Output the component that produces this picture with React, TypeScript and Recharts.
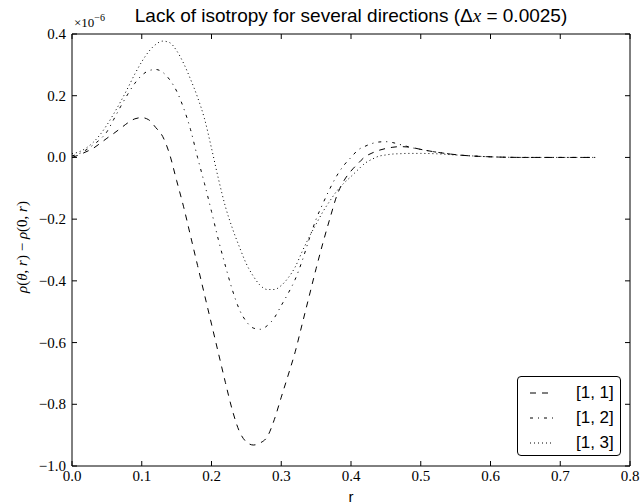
import React from 'react';
import { LineChart, Line, XAxis, YAxis, Legend, ReferenceArea } from 'recharts';

const rValues = [
  0, 0.01, 0.02, 0.03, 0.04, 0.05, 0.06, 0.07, 0.08, 0.09,
  0.1, 0.11, 0.12, 0.13, 0.14, 0.15, 0.16, 0.17, 0.18, 0.19,
  0.2, 0.21, 0.22, 0.23, 0.24, 0.25, 0.26, 0.27, 0.28, 0.29,
  0.3, 0.31, 0.32, 0.33, 0.34, 0.35, 0.36, 0.37, 0.38, 0.39,
  0.4, 0.41, 0.42, 0.43, 0.44, 0.45, 0.46, 0.47, 0.48, 0.49,
  0.5, 0.52, 0.55, 0.6, 0.65, 0.7, 0.75,
];

// values in units of 1e-6
const dir11 = [
  0, 0.008, 0.018, 0.029, 0.045, 0.062, 0.078, 0.095, 0.112, 0.125,
  0.129, 0.122, 0.097, 0.068, 0.01, -0.075, -0.16, -0.255, -0.35, -0.445,
  -0.54, -0.635, -0.73, -0.82, -0.888, -0.922, -0.932, -0.925, -0.905, -0.85,
  -0.777, -0.705, -0.63, -0.54, -0.45, -0.36, -0.275, -0.196, -0.122, -0.075,
  -0.044, -0.02, 0.002, 0.014, 0.023, 0.029, 0.033, 0.035, 0.034, 0.031,
  0.026, 0.018, 0.009, 0.002, 0, 0, 0,
];

const dir12 = [
  0.005, 0.012, 0.024, 0.04, 0.058, 0.083, 0.124, 0.166, 0.205, 0.24,
  0.266, 0.281, 0.285, 0.276, 0.252, 0.215, 0.16, 0.09, 0.0, -0.085,
  -0.175, -0.268, -0.352, -0.43, -0.493, -0.532, -0.553, -0.557, -0.545, -0.52,
  -0.48, -0.44, -0.395, -0.335, -0.265, -0.2, -0.148, -0.1, -0.058, -0.025,
  0.0, 0.024, 0.036, 0.045, 0.05, 0.051, 0.048, 0.042, 0.036, 0.03,
  0.026, 0.018, 0.009, 0.002, 0, 0, 0,
];

const dir13 = [
  0.012, 0.018, 0.03, 0.048, 0.073, 0.105, 0.142, 0.182, 0.225, 0.27,
  0.31, 0.343, 0.366, 0.377, 0.372, 0.346, 0.305, 0.253, 0.195, 0.125,
  0.03, -0.07, -0.16, -0.23, -0.29, -0.345, -0.385, -0.415, -0.428, -0.428,
  -0.415, -0.39, -0.355, -0.305, -0.258, -0.216, -0.175, -0.14, -0.108, -0.083,
  -0.062, -0.04, -0.019, -0.006, 0.004, 0.008, 0.011, 0.012, 0.013, 0.013,
  0.013, 0.012, 0.008, 0.002, 0, 0, 0,
];

const seriesNames = ['[1, 1]', '[1, 2]', '[1, 3]'];
const seriesDash = ['6 6', '3 5 1 5', '1 3'];
const xTicks = [0, 0.1, 0.2, 0.3, 0.4, 0.5, 0.6, 0.7, 0.8];
const yTicks = [-1.0, -0.8, -0.6, -0.4, -0.2, 0.0, 0.2, 0.4];
const xDomain = [0, 0.8];
const yDomain = [-1.0, 0.4];

const data = rValues.map((r, i) => ({ r, s11: dir11[i], s12: dir12[i], s13: dir13[i] }));
const seriesKeys = ['s11', 's12', 's13'];

const W = 642;
const H = 504;
const PLOT_LEFT = 72;
const PLOT_RIGHT = 630;
const PLOT_TOP = 34;
const PLOT_BOTTOM = 466;
const TICK = 5;
const SERIF = '"Liberation Serif", "DejaVu Serif", serif';
const SANS = '"Liberation Sans", Arial, sans-serif';

const fmt = (v: number) => {
  const s = Math.abs(v).toFixed(1);
  return v < -1e-9 ? '\u2212' + s : s;
};

const XTick = (props: any) => {
  const { x, y, payload } = props;
  return (
    <g>
      <line x1={x} y1={y} x2={x} y2={y - TICK} stroke="#000" strokeWidth={1} />
      <line x1={x} y1={PLOT_TOP} x2={x} y2={PLOT_TOP + TICK} stroke="#000" strokeWidth={1} />
      <text x={x} y={y + 10} textAnchor="middle" dominantBaseline="central" fontFamily={SERIF} fontSize={15} fill="#000">
        {fmt(payload.value)}
      </text>
    </g>
  );
};

const YTick = (props: any) => {
  const { x, y, payload } = props;
  return (
    <g>
      <line x1={x} y1={y} x2={x + TICK} y2={y} stroke="#000" strokeWidth={1} />
      <line x1={PLOT_RIGHT} y1={y} x2={PLOT_RIGHT - TICK} y2={y} stroke="#000" strokeWidth={1} />
      <text x={x - 6} y={y} textAnchor="end" dominantBaseline="central" fontFamily={SERIF} fontSize={15} fill="#000">
        {fmt(payload.value)}
      </text>
    </g>
  );
};

const YLabel = () => {
  const cx = 22;
  const cy = (PLOT_TOP + PLOT_BOTTOM) / 2 - 3;
  return (
    <text x={cx} y={cy} transform={`rotate(-90, ${cx}, ${cy})`} textAnchor="middle" dominantBaseline="central" fontFamily={SERIF} fontSize={15} fill="#000">
      <tspan fontStyle="italic">ρ</tspan>
      <tspan>(</tspan>
      <tspan fontStyle="italic">θ</tspan>
      <tspan>, </tspan>
      <tspan fontStyle="italic">r</tspan>
      <tspan>) − </tspan>
      <tspan fontStyle="italic">ρ</tspan>
      <tspan>(0, </tspan>
      <tspan fontStyle="italic">r</tspan>
      <tspan>)</tspan>
    </text>
  );
};

const XLabel = () => (
  <text x={(PLOT_LEFT + PLOT_RIGHT) / 2} y={496} textAnchor="middle" dominantBaseline="central" fontFamily={SANS} fontSize={15} fill="#000">
    r
  </text>
);

const LegendBox = (props: any) => {
  const payload = props.payload || [];
  return (
    <div
      style={{
        border: '1px solid #000',
        borderRadius: 4,
        background: '#fff',
        width: 104,
        height: 80,
        boxSizing: 'border-box',
        paddingTop: 3,
      }}
    >
      {payload.map((p: any, i: number) => (
        <div key={i} style={{ display: 'flex', alignItems: 'center', height: 25 }}>
          <svg width={30} height={10} style={{ marginLeft: 12 }}>
            <line x1={0} y1={5} x2={24} y2={5} stroke="#000" strokeWidth={1} strokeDasharray={seriesDash[i]} />
          </svg>
          <span style={{ fontFamily: SANS, fontSize: 17, color: '#000', marginLeft: 16, lineHeight: '25px' }}>
            {seriesNames[i]}
          </span>
        </div>
      ))}
    </div>
  );
};

export default function App() {
  return (
    <div style={{ position: 'absolute', left: 0, top: 0, width: W, height: H, background: '#fff' }}>
      <LineChart
        width={W}
        height={H}
        data={data}
        margin={{ top: PLOT_TOP, right: W - PLOT_RIGHT, bottom: 0, left: 0 }}
      >
        <XAxis
          dataKey="r"
          type="number"
          domain={xDomain}
          ticks={xTicks}
          interval={0}
          height={H - PLOT_BOTTOM}
          tickSize={0}
          tickMargin={0}
          axisLine={false}
          tickLine={false}
          tick={<XTick />}
          label={<XLabel />}
        />
        <YAxis
          type="number"
          domain={yDomain}
          ticks={yTicks}
          interval={0}
          width={PLOT_LEFT}
          tickSize={0}
          tickMargin={0}
          axisLine={false}
          tickLine={false}
          tick={<YTick />}
          label={<YLabel />}
        />
        <ReferenceArea x1={xDomain[0]} x2={xDomain[1]} y1={yDomain[0]} y2={yDomain[1]} fill="none" stroke="#000" strokeWidth={1} fillOpacity={0} />
        {seriesKeys.map((k, i) => (
          <Line
            key={k}
            dataKey={k}
            name={seriesNames[i]}
            type="monotone"
            stroke="#000"
            strokeWidth={1}
            strokeDasharray={seriesDash[i]}
            dot={false}
            activeDot={false}
            isAnimationActive={false}
          />
        ))}
        <Legend
          layout="vertical"
          align="center"
          verticalAlign="middle"
          content={<LegendBox />}
          wrapperStyle={{ position: 'absolute', left: 517, top: 376, width: 104, height: 80 }}
        />
        <text x={(PLOT_LEFT + PLOT_RIGHT) / 2} y={22} textAnchor="middle" fontFamily={SANS} fontSize={19} fill="#000">
          <tspan>Lack of isotropy for several directions (Δ</tspan>
          <tspan fontFamily={SERIF} fontStyle="italic">x</tspan>
          <tspan> = 0.0025)</tspan>
        </text>
        <text x={PLOT_LEFT + 2} y={27} fontFamily={SERIF} fontSize={13} fill="#000">
          <tspan>×10</tspan>
          <tspan fontSize={10} dy={-6}>−6</tspan>
        </text>
      </LineChart>
    </div>
  );
}
